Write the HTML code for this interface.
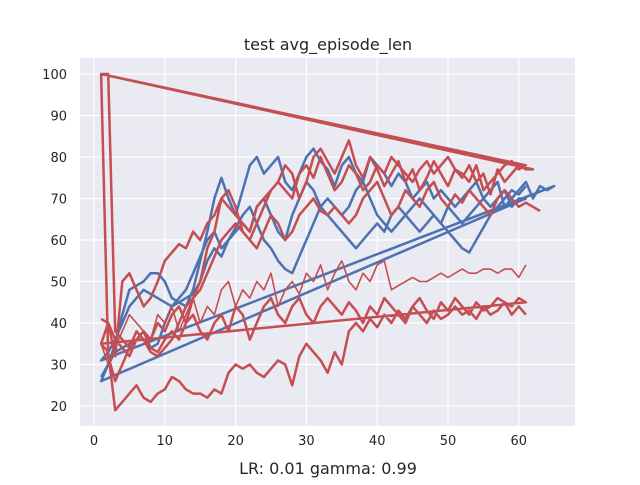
<!DOCTYPE html>
<html><head><meta charset="utf-8"><style>
body{margin:0;background:#fff;}
svg text{font-family:"DejaVu Sans","Liberation Sans",sans-serif;fill:#262626;}
</style></head><body>
<svg id="chart" width="640" height="480">
<rect x="80" y="58" width="495" height="368" fill="#eaeaf2"/>
<g id="grid"></g>
<g id="series"></g>
<g id="ticks"></g>
<text x="328" y="50" font-size="16" text-anchor="middle">test avg_episode_len</text>
<text x="328" y="474" font-size="16" text-anchor="middle">LR: 0.01 gamma: 0.99</text>
</svg>
<script>
const xTicks=[0,10,20,30,40,50,60];
const yTicks=[20,30,40,50,60,70,80,90,100];
const blueRuns=[
[27,30,35,42,48,49,50,52,52,50,46,45,44,48,55,62,70,75,70,66,72,78,80,76,78,80,74,72,76,80,82,79,77,73,78,80,76,74,80,78,76,73,76,74,70,72,74,70,72,70,68,70,72,74,70,72,74,68,70,72,74,70,73,72,73],
[31,33,36,40,44,46,48,47,46,45,44,45,46,47,50,55,58,56,60,62,64,62,68,70,66,62,60,66,70,74,72,68,66,64,62,60,58,60,62,64,62,66,68,66,64,62,64,66,64,68,66,64,66,68,70,68,70,72,68,70,70],
[26,30,33,34,35,36,36,34,35,40,44,46,48,52,56,60,62,58,60,63,66,68,64,60,58,55,53,52,56,60,64,68,70,68,66,68,72,74,70,66,64,62,64,66,68,70,68,66,64,62,60,58,57,60,63,66,68,70,72,71,73]
];
const redLowRuns=[
[41,40,36,34,32,36,38,34,33,36,38,36,40,42,38,36,40,42,38,44,42,36,40,44,46,42,40,44,46,42,40,44,46,44,42,45,43,40,44,42,46,44,42,40,44,46,43,41,45,43,46,44,42,45,43,44,46,45,44,46,45],
[35,33,19,21,23,25,22,21,23,24,27,26,24,23,23,22,24,23,28,30,29,30,28,27,29,31,30,25,32,35,33,31,28,33,30,38,40,38,41,39,42,40,43,41,44,42,40,43,41,42,44,42,43,41,44,42,43,45,42,44,42]
];
const redHighRuns=[
[35,40,32,50,52,48,44,46,50,55,57,59,58,62,60,64,66,70,68,66,64,62,68,70,72,74,72,70,76,78,75,80,76,72,74,78,76,72,74,78,76,80,78,76,74,77,79,76,78,80,77,76,74,78,72,74,76,78,79,77,78],
[100,100,38,36,34,36,38,36,40,38,42,44,40,46,50,58,62,70,72,68,62,60,64,68,72,74,78,76,70,74,80,82,79,76,80,84,78,75,80,77,73,76,79,74,77,72,75,79,76,73,77,75,78,74,76,71,77,74,76,78,77,77],
[100,32,26,30,34,38,36,33,32,34,36,40,44,46,48,52,56,60,62,64,62,60,58,62,66,64,60,62,66,68,70,67,66,68,66,64,66,70,72,74,70,66,68,72,70,68,72,74,70,68,71,69,72,70,68,66,70,72,70,68,69,68,67]
];
const redLast=[35,30,34,38,42,40,38,36,42,40,44,38,42,46,40,44,42,48,50,44,48,46,50,48,52,44,48,50,47,52,50,54,48,52,55,50,48,52,50,54,55,48,49,50,51,50,50,51,52,51,52,53,52,52,53,53,52,53,53,51,54];
const X=v=>94+v*7.08, Y=v=>74+(100-v)*4.15;
const NS='http://www.w3.org/2000/svg';
const grid=document.getElementById('grid'),ticks=document.getElementById('ticks'),ser=document.getElementById('series');
function mk(t,a,p){const e=document.createElementNS(NS,t);for(const k in a)e.setAttribute(k,a[k]);p.appendChild(e);return e;}
xTicks.forEach(v=>{
 const l=mk('line',{x1:X(v),x2:X(v),y1:58,y2:426,stroke:'#fff','stroke-width':1.2},grid);
 
 
 const t=mk('text',{x:X(v),y:445,'font-size':13,'text-anchor':'middle'},ticks);t.textContent=v;
 
 
});
yTicks.forEach(v=>{
 const l=mk('line',{x1:80,x2:575,y1:Y(v),y2:Y(v),stroke:'#fff','stroke-width':1.2},grid);
 
 
 const t=mk('text',{x:67,y:Y(v)+5,'font-size':13,'text-anchor':'end'},ticks);t.textContent=v;
 
 
});
function line(runs,color,w,name){
 const pts=[];runs.forEach(r=>r.forEach((v,i)=>pts.push(X(i+1).toFixed(1)+','+Y(v).toFixed(1))));
 const p=mk('polyline',{points:pts.join(' '),fill:'none',stroke:color,'stroke-width':w,'stroke-linejoin':'round'},ser);
 
 
}
line(blueRuns,'#4c72b0',2.5,'blue-series');
line(redLowRuns,'#c44e52',2.5,'red-series-low');
line(redHighRuns,'#c44e52',2.5,'red-series-high');
line([redLast],'#c44e52',1.6,'red-series-last');
</script>
</body></html>
